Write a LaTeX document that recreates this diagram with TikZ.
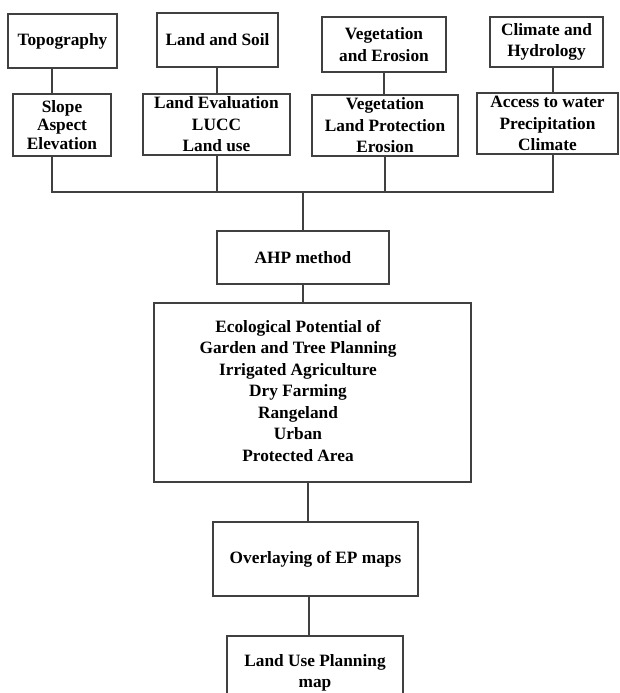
\documentclass[tikz,border=0pt]{standalone}
\usepackage{fontspec}
\setmainfont{Liberation Serif}
\tikzset{
  box/.style={draw=black!75, line width=1.2pt, inner sep=0pt, align=center,
    font=\bfseries\fontsize{17.3}{21.5}\selectfont},
  link/.style={draw=black!75, line width=1.2pt}
}
\begin{document}
\begin{tikzpicture}[x=1pt,y=-1pt]
	\useasboundingbox (0,0) rectangle (619,693);
	\clip (0,0) rectangle (619,693);

	% top row
	\node[box, minimum width=109, minimum height=54] (topo) at (62.5,41) {Topography};
	\node[box, minimum width=121, minimum height=54] (soil) at (217.5,40) {Land and Soil};
	\node[box, minimum width=124, minimum height=55] (veg) at (384,44.5) {Vegetation\\and Erosion};
	\node[box, minimum width=113, minimum height=50] (clim) at (546.5,42) {Climate and\\Hydrology};

	% criteria
	\node[box, minimum width=98, minimum height=62] (slope) at (62,125) {Slope\\[-3pt]Aspect\\[-3pt]Elevation};
	\node[box, minimum width=147, minimum height=61] (evalu) at (216.5,124.5) {Land Evaluation\\LUCC\\Land use};
	\node[box, minimum width=146, minimum height=61] (protect) at (385,125.5) {Vegetation\\Land Protection\\Erosion};
	\node[box, minimum width=141, minimum height=61] (water) at (547.5,123.5) {Access to water\\Precipitation\\Climate};

	\draw[link] ([xshift=-10.5]topo.south) -- ([xshift=-10]slope.north);
	\draw[link] ([xshift=-0.5]soil.south) -- ([xshift=0.5]evalu.north);
	\draw[link] (veg.south) -- (veg.south |- protect.north);
	\draw[link] ([xshift=6.5]clim.south) -- ([xshift=6.5]clim.south |- water.north);

	% method
	\coordinate (bus) at (303,192);
	\node[box, minimum width=172, minimum height=53] (ahp) at (303,257.5) {AHP method};
	\node[box, minimum width=317, minimum height=179] (eco) at (312.5,392.5)
		{\begin{tabular}{@{}c@{}}Ecological Potential of\\Garden and Tree Planning\\Irrigated Agriculture\\Dry Farming\\Rangeland\\Urban\\Protected Area\end{tabular}\hspace{29pt}};
	\node[box, minimum width=205, minimum height=74] (over) at (315.5,559) {Overlaying of EP maps};
	\node[box, minimum width=176, minimum height=74] (plan) at (315,673) {Land Use Planning\\map};

	\draw[link] ([xshift=-10]slope.south) |- ([xshift=5.5]water.south |- bus) -- ([xshift=5.5]water.south);
	\draw[link] ([xshift=0.5]evalu.south) -- ([xshift=0.5]evalu.south |- bus);
	\draw[link] (protect.south) -- (protect.south |- bus);
	\draw[link] (bus) -- (ahp.north);
	\draw[link] (ahp.south) -- (ahp.south |- eco.north);
	\draw[link] ([xshift=-4.5]eco.south) -- ([xshift=-4.5]eco.south |- over.north);
	\draw[link] ([xshift=-6.5]over.south) -- ([xshift=-6.5]over.south |- plan.north);
\end{tikzpicture}
\end{document}
